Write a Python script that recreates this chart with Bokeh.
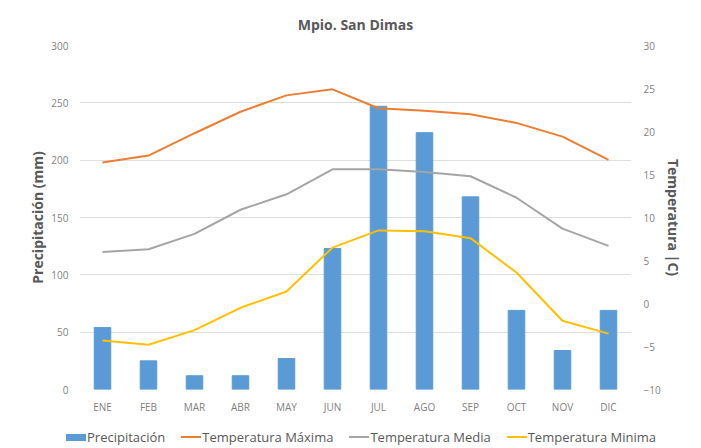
from bokeh.plotting import figure
from bokeh.layouts import column
from bokeh.models import (ColumnDataSource, Range1d, LinearAxis, FixedTicker, Title, Div)
from bokeh.embed import file_html
from bokeh.resources import INLINE

months = ["ENE", "FEB", "MAR", "ABR", "MAY", "JUN", "JUL", "AGO", "SEP", "OCT", "NOV", "DIC"]
precip = [54, 25, 12, 12, 27, 123, 247, 224, 168, 69, 34, 69]
t_max = [16.4, 17.2, 19.8, 22.3, 24.2, 24.9, 22.7, 22.4, 22.0, 21.0, 19.4, 16.7]
t_med = [6.0, 6.3, 8.1, 10.9, 12.7, 15.6, 15.6, 15.3, 14.8, 12.3, 8.7, 6.7]
t_min = [-4.3, -4.8, -3.1, -0.5, 1.4, 6.5, 8.5, 8.4, 7.6, 3.6, -2.0, -3.5]
series_names = ["Precipitación", "Temperatura Máxima", "Temperatura Media", "Temperatura Minima"]
colors = ["#5B9BD5", "#ED7D31", "#A5A5A5", "#FFC000"]

src = ColumnDataSource(dict(m=months, p=precip, tmax=t_max, tmed=t_med, tmin=t_min))

FONT = "Open Sans"
GREY = "#595959"

p = figure(x_range=months, y_range=Range1d(0, 300), frame_width=552, frame_height=344,
           output_backend="svg", toolbar_location=None,
           min_border_left=79, min_border_right=54, min_border_top=45, min_border_bottom=30,
           outline_line_color=None)
p.extra_y_ranges = {"temp": Range1d(-10, 30)}

p.title = Title(text="Mpio. San Dimas", align="center", text_font=FONT, text_font_size="14px",
                text_font_style="bold", text_color=GREY, standoff=23)

p.vbar(x="m", top="p", width=0.36, source=src, color=colors[0])
p.line(x="m", y="tmax", source=src, y_range_name="temp", line_color=colors[1], line_width=2)
p.line(x="m", y="tmed", source=src, y_range_name="temp", line_color=colors[2], line_width=2)
p.line(x="m", y="tmin", source=src, y_range_name="temp", line_color=colors[3], line_width=2)

def style_axis(ax):
    ax.axis_line_color = None
    ax.major_tick_line_color = None
    ax.minor_tick_line_color = None
    ax.major_tick_out = 0
    ax.major_tick_in = 0
    ax.minor_tick_out = 0
    ax.minor_tick_in = 0
    ax.major_label_text_font = FONT
    ax.major_label_text_font_size = "10px"
    ax.major_label_text_color = "#7F7F7F"
    ax.axis_label_text_font = FONT
    ax.axis_label_text_font_size = "14px"
    ax.axis_label_text_font_style = "bold"
    ax.axis_label_text_color = GREY

p.yaxis.axis_label = "Precipitación (mm)"
p.yaxis.ticker = FixedTicker(ticks=[0, 50, 100, 150, 200, 250, 300])
style_axis(p.yaxis[0])
p.yaxis.major_label_standoff = 11
p.yaxis.axis_label_standoff = 1
style_axis(p.xaxis[0])
p.xaxis.major_label_standoff = 10
p.xaxis.axis_label_standoff = 0

rax = LinearAxis(y_range_name="temp", axis_label="Temperatura |C)",
                 ticker=FixedTicker(ticks=[-10, -5, 0, 5, 10, 15, 20, 25, 30]))
style_axis(rax)
rax.major_label_standoff = 12
rax.axis_label_standoff = 0
p.add_layout(rax, "right")

p.xgrid.grid_line_color = None
p.ygrid.grid_line_color = "#DEDEDE"
p.ygrid.ticker = FixedTicker(ticks=[0, 50, 100, 150, 200, 250, 300])
p.x_range.range_padding = 0.0

# Legend strip below the chart, built from the series names and colours
parts = []
for i, (name, col) in enumerate(zip(series_names, colors)):
    h = 7 if i == 0 else 2
    swatch = ('<span style="display:inline-block;width:20px;height:%dpx;background:%s;'
              'margin-right:1px;"></span>' % (h, col))
    parts.append('<span style="display:flex;align-items:center;margin-right:16px;">%s%s</span>'
                 % (swatch, name))
html = ('<div style="display:flex;align-items:center;height:26px;padding-left:61px;'
        'font-family:\'Open Sans\';font-size:13px;color:#595959;white-space:nowrap;">'
        + "".join(parts) + '</div>')
legend_div = Div(text=html, width=685, height=26)

layout = column(p, legend_div, spacing=0)
open("out.html", "w").write(file_html(layout, INLINE))
